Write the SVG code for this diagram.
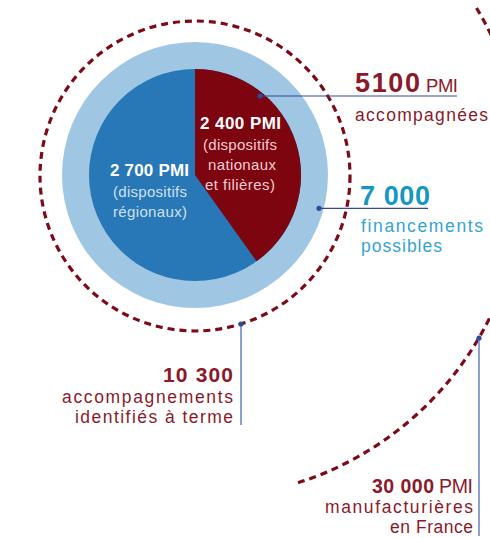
<svg xmlns="http://www.w3.org/2000/svg" width="490" height="538" viewBox="0 0 490 538">
<style>
text{font-family:"Liberation Sans",Arial,sans-serif}
.dash{fill:none;stroke:#7c0a18;stroke-width:3.2;stroke-dasharray:7 5}
.red{fill:#8a1a2b}
.b{font-weight:700}
.lead{stroke:#34499a;stroke-width:1.2;fill:none}
.vlead{stroke:#8196cf;stroke-width:1.8;fill:none}
.dot{fill:#2f4a9c}
.lbl{font-size:17.5px}
.pin{font-size:15px}
</style>
<rect width="490" height="538" fill="#ffffff"/>
<g id="france">
<path class="dash" d="M476.5,8 A323,323 0 0 1 294.4,483.9"/>
</g>
<g id="identified">
<circle class="dash" cx="195" cy="176" r="155"/>
</g>
<g id="possible">
<circle cx="195" cy="175" r="133" fill="#9fc7e4"/>
</g>
<g id="pie">
<circle cx="195" cy="175" r="106" fill="#2877b6"/>
<path d="M195,175 L195,69 A106,106 0 0 1 256.6,261.3 Z" fill="#7d0510"/>
<text class="b" x="240.5" y="129" font-size="17" fill="#ffffff" text-anchor="middle" textLength="81">2 400 PMI</text>
<text class="pin" x="240" y="150" fill="#f2ccd1" text-anchor="middle" textLength="74">(dispositifs</text>
<text class="pin" x="242" y="170" fill="#f2ccd1" text-anchor="middle" textLength="68">nationaux</text>
<text class="pin" x="240" y="190" fill="#f2ccd1" text-anchor="middle" textLength="70">et filières)</text>
<text class="b" x="149.5" y="176" font-size="17" fill="#ffffff" text-anchor="middle" textLength="79">2 700 PMI</text>
<text class="pin" x="150" y="197" fill="#cfe0f1" text-anchor="middle" textLength="74">(dispositifs</text>
<text class="pin" x="150" y="217" fill="#cfe0f1" text-anchor="middle" textLength="74">régionaux)</text>
</g>
<g id="connectors">
<line class="lead" x1="260" y1="96" x2="457" y2="96"/>
<circle class="dot" cx="260" cy="96" r="2.6"/>
<line class="lead" x1="319" y1="208.3" x2="428" y2="208.3"/>
<circle class="dot" cx="319" cy="208.3" r="2.6"/>
<line class="vlead" x1="241" y1="324" x2="241" y2="425"/>
<circle class="dot" cx="241" cy="324" r="2.6"/>
<line class="vlead" x1="479" y1="338" x2="479" y2="536"/>
<circle class="dot" cx="479" cy="338" r="2.6"/>
</g>
<g id="label-5100">
<text class="red b" x="355" y="92" font-size="27" textLength="65">5100</text>
<text class="red" x="426" y="92" font-size="18.5" textLength="32">PMI</text>
<text class="red lbl" x="355" y="121" textLength="133">accompagnées</text>
</g>
<g id="label-7000">
<text class="b" x="360" y="205" font-size="27" fill="#1597c4" textLength="70">7 000</text>
<text class="lbl" x="361" y="232" fill="#36a3cf" textLength="122">financements</text>
<text class="lbl" x="361" y="252" fill="#36a3cf" textLength="81">possibles</text>
</g>
<g id="label-10300">
<text class="red b" x="233" y="382" font-size="21" text-anchor="end" textLength="70">10 300</text>
<text class="red lbl" x="233" y="403" text-anchor="end" textLength="171">accompagnements</text>
<text class="red lbl" x="233" y="423" text-anchor="end" textLength="158">identifiés à terme</text>
</g>
<g id="label-30000">
<text class="red b" x="434" y="493" font-size="19.5" text-anchor="end" textLength="62">30 000</text>
<text class="red" x="473" y="493" font-size="19.5" text-anchor="end" textLength="34">PMI</text>
<text class="red lbl" x="473" y="513" text-anchor="end" textLength="148">manufacturières</text>
<text class="red lbl" x="473" y="533" text-anchor="end" textLength="83">en France</text>
</g>
</svg>
